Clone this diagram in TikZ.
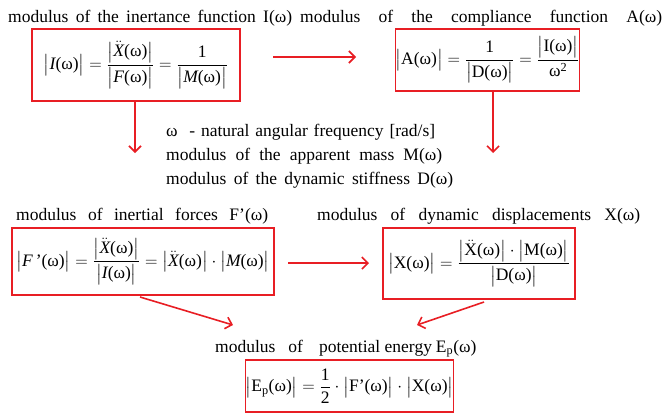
\documentclass[tikz,border=0pt]{standalone}
\usepackage{amsmath}
\usepackage{fontspec}
\setmainfont{Liberation Serif}
\usetikzlibrary{arrows.meta}
\definecolor{redline}{RGB}{232,30,36}
\newcommand\w{\text{(ω)}}
\newcommand\om{\text{ω}}
\newcommand\ab[1]{\bigl|#1\bigr|}
\newcommand\tu[1]{\text{#1}}
\newcommand\ti[1]{\textit{#1}}
\begin{document}
\begin{tikzpicture}[x=1pt,y=-1pt,
  every node/.style={font=\fontsize{17.5}{21}\selectfont, inner sep=0pt, text=black},
  fbox/.style={draw=redline, line width=1.5pt, font=\fontsize{17.5}{21}\selectfont},
  lab/.style={anchor=base west},
  arr/.style={draw=redline, line width=1.6pt, -{Straight Barb[length=6pt,width=12pt]}}]
\useasboundingbox (0,0) rectangle (668,416);
% labels
\node[lab] (l1) at (8,22) {\makebox[284pt][s]{modulus of the inertance function I(ω)}};
\node[lab] (l2) at (300,22) {\makebox[362pt][s]{modulus of the compliance function A(ω)}};
\node[lab] (m1) at (166,136) {\makebox[269pt][s]{ω \ - natural angular frequency [rad/s]}};
\node[lab] (m2) at (166,160) {\makebox[276pt][s]{modulus of the apparent mass M(ω)}};
\node[lab] (m3) at (166,184) {\makebox[287pt][s]{modulus of the dynamic stiffness D(ω)}};
\node[lab] (l3) at (16,220) {\makebox[252pt][s]{modulus of inertial forces F’(ω)}};
\node[lab] (l4) at (317,220) {\makebox[323pt][s]{modulus of dynamic displacements X(ω)}};
\node[lab] (l5) at (215,352) {modulus\hspace{13pt}of\hspace{16pt}potential energy\hspace{4pt}$\tu{E}_{\tu{p}}$(ω)};
% boxes
\node[fbox, minimum width=208pt, minimum height=72pt] (b1) at (136,65)
  {$\displaystyle \ab{\ti{I}\w}=\frac{\ab{\ddot{\ti{X}}\w}}{\ab{\ti{F}\w}}=\frac{\tu{1}}{\ab{\ti{M}\w}}$};
\node[fbox, minimum width=179pt, minimum height=62pt] (b2) at (487.5,60)
  {$\displaystyle \ab{\tu{A}\w}=\frac{\tu{1}}{\ab{\tu{D}\w}}=\frac{\ab{\tu{I}\w}}{\om^{\tu{2}}}$};
\node[fbox, minimum width=262pt, minimum height=67pt] (b3) at (143,261.5)
  {$\displaystyle \ab{\ti{F}\,\tu{'}\w}=\frac{\ab{\ddot{\ti{X}}\w}}{\ab{\ti{I}\w}}=\ab{\ddot{\ti{X}}\w}\cdot\ab{\ti{M}\w}$};
\node[fbox, minimum width=192pt, minimum height=71pt] (b4) at (479,263.5)
  {$\displaystyle \ab{\tu{X}\w}=\frac{\ab{\ddot{\tu{X}}\w}\cdot\ab{\tu{M}\w}}{\ab{\tu{D}\w}}$};
\node[fbox, minimum width=207pt, minimum height=52pt] (b5) at (349.5,386)
  {$\displaystyle \ab{\tu{E}_{\tu{p}}\w}=\frac{\tu{1}}{\tu{2}}\cdot\ab{\tu{F'}\w}\cdot\ab{\tu{X}\w}$};
% arrow end points
\coordinate (a1s) at (273,57);
\coordinate (a1e) at (356,57);
\coordinate (d1s) at (135,101);
\coordinate (d1e) at (135,153);
\coordinate (d2s) at (493,91);
\coordinate (d2e) at (493,153);
\coordinate (a3s) at (288,263);
\coordinate (a3e) at (369,263);
\coordinate (c1s) at (140,297);
\coordinate (c1e) at (233,325);
\coordinate (c2s) at (484,302);
\coordinate (c2e) at (417,325);
\draw[arr] (a1s) -- (a1e);
\draw[arr] (d1s) -- (d1e);
\draw[arr] (d2s) -- (d2e);
\draw[arr] (a3s) -- (a3e);
\draw[arr] (c1s) -- (c1e);
\draw[arr] (c2s) -- (c2e);
\end{tikzpicture}
\end{document}
